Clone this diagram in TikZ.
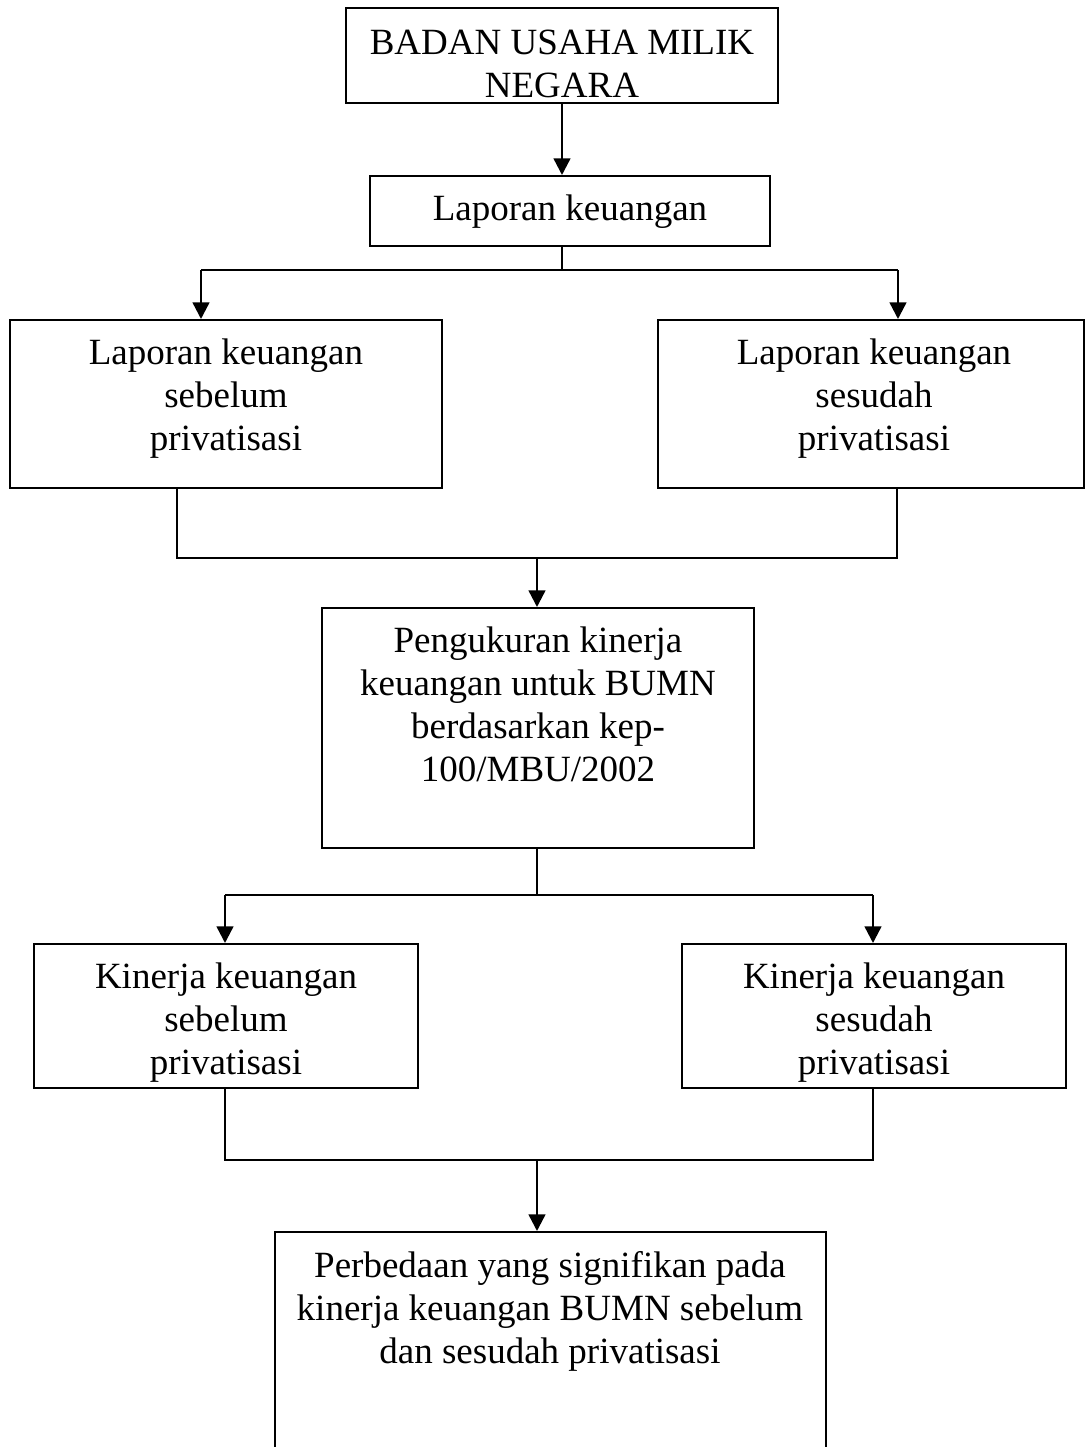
\documentclass[tikz,border=0pt]{standalone}
\usepackage{fontspec}
\setmainfont{Liberation Serif}
\usetikzlibrary{arrows.meta}
\begin{document}
\begin{tikzpicture}[x=0.75pt,y=-0.75pt,
  box/.style={draw, line width=1.5pt, rectangle, inner sep=0pt},
  lbl/.style={anchor=base, align=center, inner sep=0pt,
    font=\fontsize{27.75pt}{32.25pt}\selectfont},
  conn/.style={line width=1.6pt},
  arr/.style={line width=1.8pt, -{Triangle[length=12.5pt,width=12.5pt]}}]
\useasboundingbox (0,0) rectangle (1085,1447);
% boxes
\node[box, minimum width=432*0.75pt, minimum height=95*0.75pt] (top) at (562,55.5) {};
\node[box, minimum width=400*0.75pt, minimum height=70*0.75pt] (lk) at (570,211) {};
\node[box, minimum width=432*0.75pt, minimum height=168*0.75pt] (lkl) at (226,404) {};
\node[box, minimum width=426*0.75pt, minimum height=168*0.75pt] (lkr) at (871,404) {};
\node[box, minimum width=432*0.75pt, minimum height=240*0.75pt] (mid) at (538,728) {};
\node[box, minimum width=384*0.75pt, minimum height=144*0.75pt] (kl) at (226,1016) {};
\node[box, minimum width=384*0.75pt, minimum height=144*0.75pt] (kr) at (874,1016) {};
\node[box, minimum width=551*0.75pt, minimum height=230*0.75pt] (res) at (550.5,1347) {};
% texts (base = baseline of the last line)
\node[lbl] (ttop) at (562,97) {BADAN USAHA MILIK\\NEGARA};
\node[lbl] (tlk) at (570,220) {Laporan keuangan};
\node[lbl] (tlkl) at (226,450) {Laporan keuangan\\sebelum\\privatisasi};
\node[lbl] (tlkr) at (874,450) {Laporan keuangan\\sesudah\\privatisasi};
\node[lbl] (tmid) at (538,781) {Pengukuran kinerja\\keuangan untuk BUMN\\berdasarkan kep-\\100/MBU/2002};
\node[lbl] (tkl) at (226,1074) {Kinerja keuangan\\sebelum\\privatisasi};
\node[lbl] (tkr) at (874,1074) {Kinerja keuangan\\sesudah\\privatisasi};
\node[lbl] (tres) at (550,1363) {Perbedaan yang signifikan pada\\kinerja keuangan BUMN sebelum\\dan sesudah privatisasi};
% connectors
\draw[arr] (top.south) -- (top.south |- lk.north);
\coordinate (j1) at (562,270);
\coordinate (j1l) at (201,270);
\coordinate (j1r) at (898,270);
\draw[conn] (j1 |- lk.south) -- (j1);
\draw[conn] (j1l) -- (j1r);
\draw[arr] (j1l) -- (j1l |- lkl.north);
\draw[arr] (j1r) -- (j1r |- lkr.north);
\coordinate (a1) at (177,558);
\coordinate (a2) at (897,558);
\coordinate (j2) at (537,558);
\draw[conn] (a1 |- lkl.south) -- (a1) -- (a2) -- (a2 |- lkr.south);
\draw[arr] (j2) -- (j2 |- mid.north);
\coordinate (j3) at (537,895);
\coordinate (j3l) at (225,895);
\coordinate (j3r) at (873,895);
\draw[conn] (j3 |- mid.south) -- (j3);
\draw[conn] (j3l) -- (j3r);
\draw[arr] (j3l) -- (j3l |- kl.north);
\draw[arr] (j3r) -- (j3r |- kr.north);
\coordinate (b1) at (225,1160);
\coordinate (b2) at (873,1160);
\coordinate (j4) at (537,1160);
\draw[conn] (b1 |- kl.south) -- (b1) -- (b2) -- (b2 |- kr.south);
\draw[arr] (j4) -- (j4 |- res.north);
\end{tikzpicture}
\end{document}
